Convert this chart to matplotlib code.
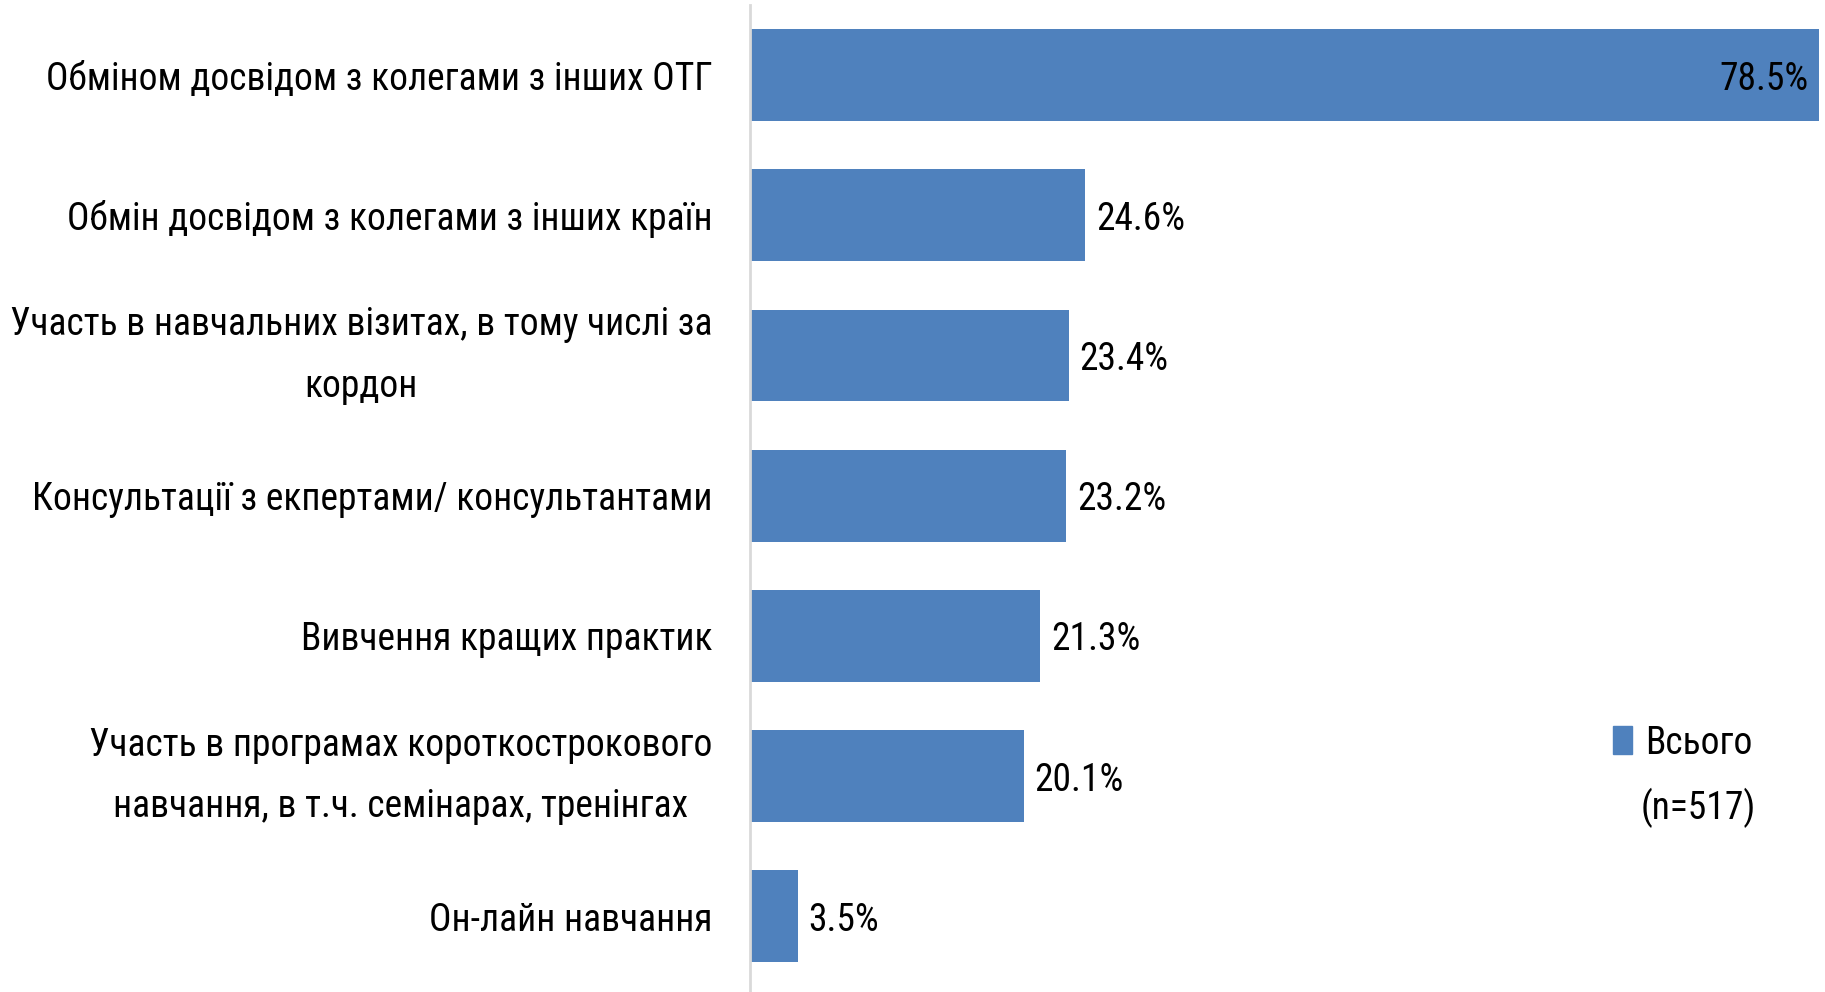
import matplotlib.pyplot as plt
from matplotlib.patches import Rectangle

# дані
categories = [
    "Обміном досвідом з колегами з інших ОТГ",
    "Обмін досвідом з колегами з інших країн",
    "Участь в навчальних візитах, в тому числі за\nкордон",
    "Консультації з екпертами/ консультантами",
    "Вивчення кращих практик",
    "Участь в програмах короткострокового\nнавчання, в т.ч. семінарах, тренінгах",
    "Он-лайн навчання",
]
values = [78.5, 24.6, 23.4, 23.2, 21.3, 20.1, 3.5]
series_name = "Всього"
n_note = "(n=517)"

plt.rcParams['font.family'] = ["Roboto Condensed", "Carlito", "DejaVu Sans"]

color = "#4F81BD"
fs = 27

W, H = 1825, 992
fig = plt.figure(figsize=(W / 100, H / 100), dpi=100)
ax = fig.add_axes([750 / W, 0 / H, (1819 - 750) / W, (987 - 0) / H])

y = list(range(len(categories)))
ax.barh(y, values, height=0.655, color=color)
ax.set_xlim(0, 78.5)
ax.set_ylim(len(categories) - 0.46, -0.5)

ax.set_yticks(y)
ax.set_yticklabels(categories, fontsize=fs, linespacing=1.85)
for t in ax.get_yticklabels():
    t.set_multialignment('center')
    if "\n" in t.get_text():
        t.set_verticalalignment('center')
ax.tick_params(axis='y', length=0, pad=27)
ax.set_xticks([])

for s in ['top', 'right', 'bottom']:
    ax.spines[s].set_visible(False)
ax.spines['left'].set_color('#D9D9D9')
ax.spines['left'].set_linewidth(2)

for i, v in enumerate(values):
    if i == 0:
        ax.text(v - 0.8, i, f"{v}%", va='center_baseline', ha='right', fontsize=fs)
    else:
        ax.text(v + 0.8, i, f"{v}%", va='center_baseline', ha='left', fontsize=fs)

# легенда
fig.patches.append(Rectangle((1613 / W, 1 - 754 / H), 19 / W, 28 / H,
                             transform=fig.transFigure, color=color))
fig.text(1645 / W, 1 - 740 / H, series_name, fontsize=fs, va='center_baseline', ha='left')
fig.text(1641 / W, 1 - 803 / H, n_note, fontsize=fs, va='center_baseline', ha='left')

fig.savefig("out.png", dpi=100)
